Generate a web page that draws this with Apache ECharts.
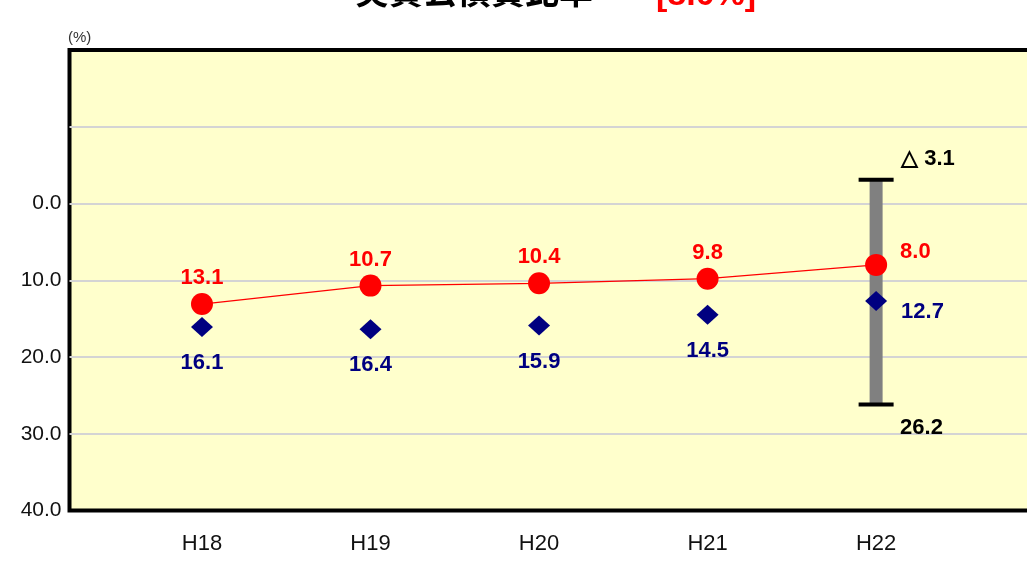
<!DOCTYPE html>
<html>
<head>
<meta charset="utf-8">
<script src="https://cdn.jsdelivr.net/npm/echarts@6/dist/echarts.min.js"></script>
<style>
html,body{margin:0;padding:0;background:#fff;}
#chart{width:1027px;height:571px;}
</style>
</head>
<body>
<div id="chart"></div>
<script>
// ---- data ----
const categories = ['H18', 'H19', 'H20', 'H21', 'H22'];
const cityRatio = [13.1, 10.7, 10.4, 9.8, 8.0];        // red circles
const groupAverage = [16.1, 16.4, 15.9, 14.5, 12.7];   // navy diamonds
const rangeLow = -3.1;   // shown as △3.1
const rangeHigh = 26.2;
const rangeCategory = 'H22';
const yTicks = [-20, -10, 0, 10, 20, 30, 40];
const titleText = '実質公債費比率';

const pos = i => i + 1;
const lastIdx = categories.length - 1;

const redData = cityRatio.map((v, i) => {
  const item = { value: [pos(i), v] };
  if (i === lastIdx) {
    item.label = { position: 'right', distance: 13, offset: [0, -13] };
  }
  return item;
});
const navyData = groupAverage.map((v, i) => {
  const item = { value: [pos(i), v] };
  if (i === lastIdx) {
    item.label = { position: 'right', distance: 14, offset: [0, 11] };
  }
  return item;
});
const rangeData = [[pos(categories.indexOf(rangeCategory)), rangeLow, rangeHigh]];

const fmtSigned = v => (v < 0 ? '△ ' + Math.abs(v).toFixed(1) : v.toFixed(1));

// split line colours: hide the ones that coincide with the frame (top and bottom)
const splitColors = yTicks.map((t, i) => (i === 0 || i === yTicks.length - 1) ? 'rgba(0,0,0,0)' : '#d4d4d4');

const chart = echarts.init(document.getElementById('chart'), null, { renderer: 'canvas' });
chart.setOption({
  animation: false,
  backgroundColor: '#ffffff',
  title: [{
    left: 350,
    top: -34,
    text: titleText,
    textStyle: { fontFamily: 'Noto Sans CJK JP', fontWeight: 'bold', fontSize: 34, color: '#000', lineHeight: 40 }
  }, {
    left: 651,
    top: -29,
    text: '[' + cityRatio[lastIdx].toFixed(1) + '%]',
    textStyle: { fontFamily: 'Liberation Sans', fontWeight: 'bold', fontSize: 34, color: '#ff0000', lineHeight: 40 }
  }],
  graphic: [{
    type: 'text', left: 68, top: 30,
    style: { text: '(%)', fontSize: 15, fontFamily: 'Liberation Sans', fill: '#333' }
  }],
  grid: {
    left: 69.5, top: 50, height: 460.5, width: 992,
    outerBoundsMode: 'none',
    containLabel: false,
    show: true, backgroundColor: '#ffffcc', borderColor: '#000', borderWidth: 4
  },
  xAxis: {
    type: 'value',
    min: 0.214, max: 6.1,
    axisLine: { show: false },
    axisTick: { show: false },
    splitLine: { show: false },
    axisLabel: {
      customValues: categories.map((c, i) => pos(i)),
      formatter: v => categories[Math.round(v) - 1] || '',
      fontSize: 22, fontFamily: 'Liberation Sans', color: '#111', margin: 22
    }
  },
  yAxis: {
    type: 'value',
    inverse: true,
    min: yTicks[0], max: yTicks[yTicks.length - 1], interval: 10,
    axisLine: { show: false },
    axisTick: { show: false },
    splitLine: { show: true, lineStyle: { color: splitColors, width: 2 } },
    axisLabel: {
      formatter: v => (v < 0 ? '' : v.toFixed(1)),
      fontSize: 21, fontFamily: 'Liberation Sans', color: '#111', margin: 8
    }
  },
  series: [
    {
      type: 'custom',
      z: 1,
      data: rangeData,
      renderItem: (params, api) => {
        const x = api.value(0);
        const pTop = api.coord([x, api.value(1)]);
        const pBot = api.coord([x, api.value(2)]);
        const cx = pTop[0];
        return {
          type: 'group',
          children: [
            { type: 'rect', shape: { x: cx - 6.5, y: pTop[1], width: 13, height: pBot[1] - pTop[1] }, style: { fill: '#808080' } },
            { type: 'line', shape: { x1: cx - 17.5, y1: pTop[1], x2: cx + 17.5, y2: pTop[1] }, style: { stroke: '#000', lineWidth: 4 } },
            { type: 'line', shape: { x1: cx - 17.5, y1: pBot[1], x2: cx + 17.5, y2: pBot[1] }, style: { stroke: '#000', lineWidth: 4 } },
            { type: 'text', x: cx + 25, y: pTop[1] - 21, style: { text: fmtSigned(api.value(1)), fontSize: 22, fontWeight: 'bold', fontFamily: 'Liberation Sans', fill: '#000', verticalAlign: 'middle', align: 'left' } },
            { type: 'text', x: cx + 24, y: pBot[1] + 23, style: { text: fmtSigned(api.value(2)), fontSize: 22, fontWeight: 'bold', fontFamily: 'Liberation Sans', fill: '#000', verticalAlign: 'middle', align: 'left' } }
          ]
        };
      }
    },
    {
      type: 'line',
      z: 3,
      data: redData,
      symbol: 'circle',
      symbolSize: 22,
      lineStyle: { color: '#ff0000', width: 1.2 },
      itemStyle: { color: '#ff0000', opacity: 1 },
      label: {
        show: true, position: 'top', distance: 4,
        formatter: p => p.value[1].toFixed(1),
        fontSize: 22, fontWeight: 'bold', fontFamily: 'Liberation Sans', color: '#ff0000', lineHeight: 22
      }
    },
    {
      type: 'scatter',
      z: 3,
      data: navyData,
      symbol: 'diamond',
      symbolSize: [22, 20],
      itemStyle: { color: '#000080', opacity: 1 },
      label: {
        show: true, position: 'bottom', distance: 15,
        formatter: p => p.value[1].toFixed(1),
        fontSize: 22, fontWeight: 'bold', fontFamily: 'Liberation Sans', color: '#000080', lineHeight: 22
      }
    }
  ]
});
</script>
</body>
</html>
